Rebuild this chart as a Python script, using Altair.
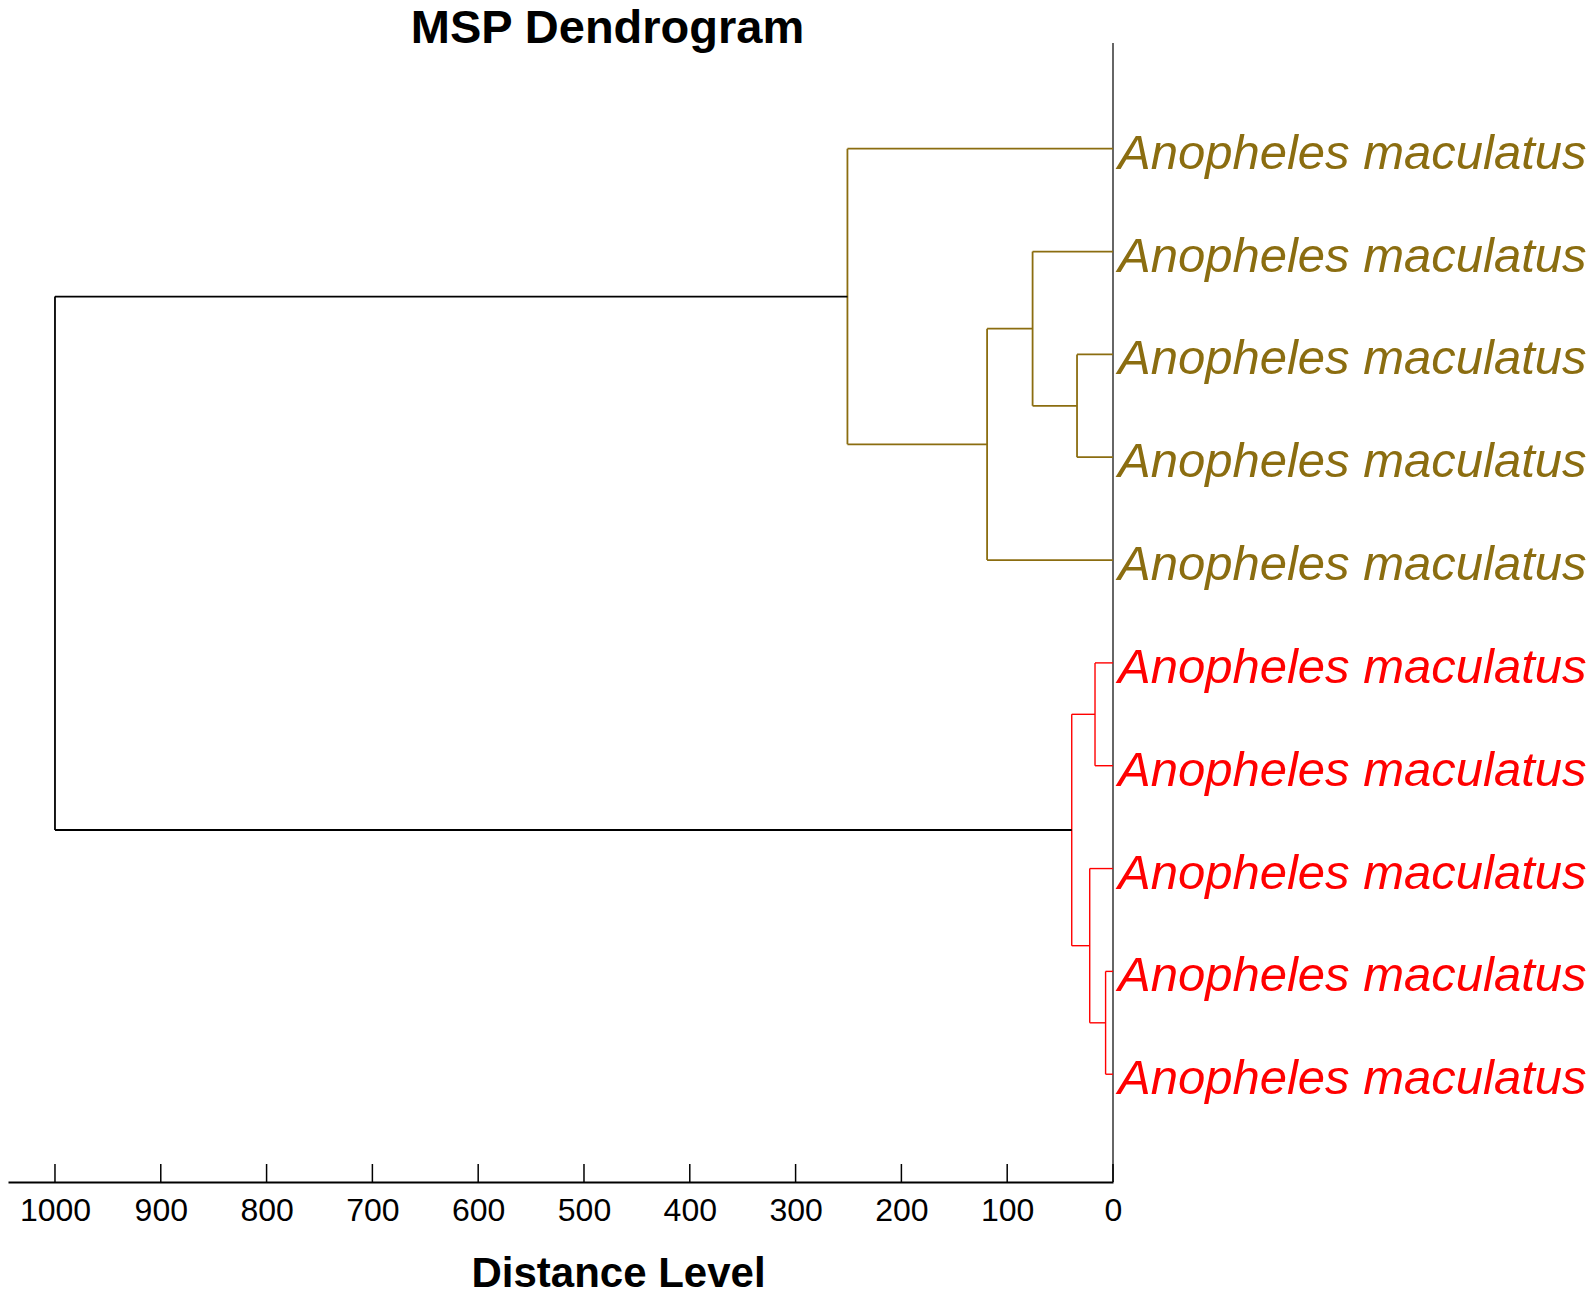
import altair as alt
import pandas as pd

# ---- data ----
leaf_labels = ["Anopheles maculatus"] * 10
leaf_groups = ["gold"] * 5 + ["red"] * 5
# merges: node ids 0-9 are leaves, merge k creates node id 10+k
merge_left = [2, 1, 11, 0, 5, 8, 7, 14, 13]
merge_right = [3, 10, 4, 12, 6, 9, 15, 16, 17]
merge_height = [34, 76, 119, 251, 17, 7, 22, 39, 1000]
merge_group = ["gold", "gold", "gold", "gold", "red", "red", "red", "red", "root"]
tick_values = [0, 100, 200, 300, 400, 500, 600, 700, 800, 900, 1000]

group_domain = ["gold", "red", "root"]
group_colors = ["#8B6D10", "#FF0000", "#000000"]
group_widths = {"gold": 1.8, "red": 1.4, "root": 1.8}

# ---- build dendrogram segments ----
n = len(leaf_labels)
pos_y = {i: float(i) for i in range(n)}
pos_x = {i: 0.0 for i in range(n)}
segs = []
for k, (l, r, h, g) in enumerate(zip(merge_left, merge_right, merge_height, merge_group)):
    nid = n + k
    yl, yr = pos_y[l], pos_y[r]
    w = group_widths[g]
    segs.append(dict(x=h, x2=h, y=yl, y2=yr, grp=g, w=w))
    segs.append(dict(x=pos_x[l], x2=h, y=yl, y2=yl, grp=g, w=w))
    segs.append(dict(x=pos_x[r], x2=h, y=yr, y2=yr, grp=g, w=w))
    pos_y[nid] = (yl + yr) / 2
    pos_x[nid] = h
seg_df = pd.DataFrame(segs)
leaf_df = pd.DataFrame({"x": [0] * n, "y": list(range(n)), "label": leaf_labels, "grp": leaf_groups})
tick_df = pd.DataFrame({"x": tick_values})
zero_df = pd.DataFrame({"x": [0]})

W, H = 1105, 1139
FONT = "Liberation Sans"
xscale = alt.Scale(domain=[0, 1044.4], reverse=True, nice=False, zero=False)
yscale = alt.Scale(domain=[-1.028, 10.048], reverse=True, nice=False, zero=False)
cscale = alt.Scale(domain=group_domain, range=group_colors)

x_axis = alt.Axis(
    orient="bottom", values=tick_values, format="d", labelFontSize=32, labelFont=FONT,
    labelColor="black", labelBaseline="alphabetic", labelPadding=38, ticks=False, tickSize=0,
    labelFlush=False, labelOverlap=False, domainColor="black", domainWidth=2, grid=False,
    title="Distance Level", titleFontSize=42, titleFont=FONT, titleFontWeight="bold",
    titleColor="black", titleX=610, titleY=104, titleAlign="center", titleBaseline="alphabetic")

def xenc(field):
    return alt.X(field, type="quantitative", scale=xscale, axis=x_axis)

zero_line = alt.Chart(zero_df).mark_rule(color="#333333", strokeWidth=1.5).encode(
    x=xenc("x"),
    y=alt.value(0),
    y2=alt.value(H),
)

ticks = alt.Chart(tick_df).mark_rule(color="black", strokeWidth=1.5).encode(
    x=xenc("x"),
    y=alt.value(H - 18),
    y2=alt.value(H),
)

rules = alt.Chart(seg_df).mark_rule().encode(
    x=xenc("x"),
    x2="x2:Q",
    y=alt.Y("y:Q", scale=yscale, axis=None),
    y2="y2:Q",
    color=alt.Color("grp:N", scale=cscale, legend=None),
    size=alt.Size("w:Q", scale=None, legend=None),
)

labels = alt.Chart(leaf_df).mark_text(
    align="left", baseline="alphabetic", dx=5, dy=20, fontSize=49, font=FONT, fontStyle="italic"
).encode(
    x=xenc("x"),
    y=alt.Y("y:Q", scale=yscale, axis=None),
    text="label:N",
    color=alt.Color("grp:N", scale=cscale, legend=None),
)

chart = alt.layer(zero_line, ticks, rules, labels).properties(
    width=W, height=H,
    title=alt.Title("MSP Dendrogram", fontSize=47, fontWeight="bold", font=FONT, anchor="middle",
                    frame="group", dx=47, offset=-11, color="black"),
    autosize=alt.AutoSizeParams(type="none"),
    padding={"left": 0, "top": 35, "right": 473, "bottom": 113},
    background="white",
).configure_view(stroke=None)

chart.save("out.html", embed_options={"renderer": "svg", "actions": False})
